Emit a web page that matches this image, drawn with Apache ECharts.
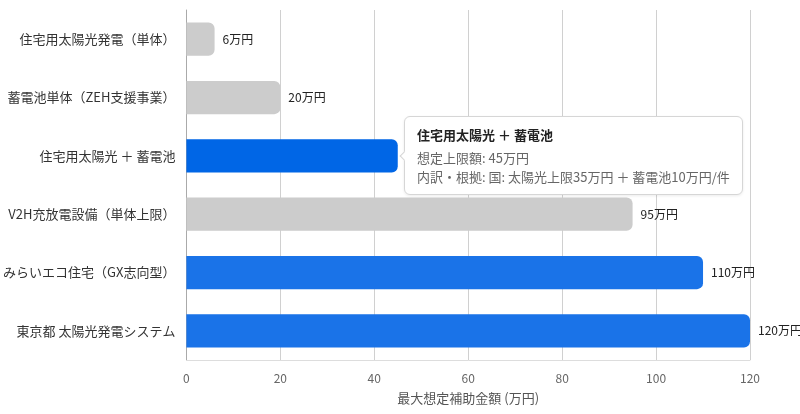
<!DOCTYPE html>
<html>
<head>
<meta charset="utf-8">
<script src="https://cdn.jsdelivr.net/npm/echarts@6/dist/echarts.min.js"></script>
<style>
html,body{margin:0;padding:0;background:#fff;}
#chart{width:800px;height:414px;}
</style>
</head>
<body>
<div id="chart"></div>
<script>
const categories = ['住宅用太陽光発電（単体）','蓄電池単体（ZEH支援事業）','住宅用太陽光 ＋ 蓄電池','V2H充放電設備（単体上限）','みらいエコ住宅（GX志向型）','東京都 太陽光発電システム'];
const values = [6, 20, 45, 95, 110, 120];
const highlightFlags = [false, false, true, false, true, true];
const notes = ['', '', '国: 太陽光上限35万円 ＋ 蓄電池10万円/件', '', '', ''];
const xTicks = [0, 20, 40, 60, 80, 100, 120];

const FONT = '"Noto Sans CJK JP", "Noto Sans", sans-serif';
const chart = echarts.init(document.getElementById('chart'));
chart.setOption({
  animation: false,
  textStyle: { fontFamily: FONT },
  grid: { left: 186, right: 50, top: 10, bottom: 54 },
  tooltip: {
    trigger: 'item',
    position: 'right',
    alwaysShowContent: true,
    backgroundColor: '#fff',
    borderColor: '#d6d6d6',
    borderWidth: 1,
    padding: [8, 12],
    extraCssText: 'border-radius:6px;box-shadow:0 1px 3px rgba(0,0,0,0.08);margin-left:-4px;',
    formatter: function (p) {
      const i = p.dataIndex;
      let s = '<div style="font-family:' + FONT.replace(/"/g, "'") + ';">' +
        '<div style="font-weight:bold;font-size:13px;color:#222;line-height:20px;margin-bottom:3px;">' + categories[i] + '</div>' +
        '<div style="font-size:13px;color:#666;line-height:19px;">想定上限額: ' + values[i] + '万円</div>';
      if (notes[i]) s += '<div style="font-size:13px;color:#666;line-height:19px;">内訳・根拠: ' + notes[i] + '</div>';
      return s + '</div>';
    }
  },
  xAxis: {
    type: 'value',
    min: 0, max: xTicks[xTicks.length - 1], interval: 20,
    name: '最大想定補助金額 (万円)',
    nameLocation: 'middle',
    nameGap: 32,
    nameTextStyle: { color: '#555', fontSize: 13, fontFamily: FONT },
    axisLine: { show: true, lineStyle: { color: '#dddddd' } },
    axisTick: { show: false },
    axisLabel: { color: '#666', fontSize: 12, margin: 12, fontFamily: FONT },
    splitLine: { show: true, lineStyle: { color: '#d0d0d0' } }
  },
  yAxis: {
    type: 'category',
    data: categories,
    inverse: true,
    axisLine: { show: true, lineStyle: { color: '#aaaaaa' } },
    axisTick: { show: false },
    axisLabel: { color: '#333', fontSize: 13, margin: 11, fontFamily: FONT }
  },
  series: [{
    type: 'bar',
    barWidth: '57%',
    data: values.map((v, i) => ({
      value: v,
      itemStyle: { color: highlightFlags[i] ? '#1a73e8' : '#cccccc', borderRadius: [0, 6, 6, 0] },
      emphasis: { itemStyle: { color: highlightFlags[i] ? '#0066e6' : '#bbbbbb' } }
    })),
    label: {
      show: true,
      position: 'right',
      distance: 8,
      color: '#222',
      fontSize: 12,
      fontFamily: FONT,
      formatter: p => p.value + '万円'
    }
  }]
});
chart.dispatchAction({ type: 'highlight', seriesIndex: 0, dataIndex: 2 });
chart.dispatchAction({ type: 'showTip', seriesIndex: 0, dataIndex: 2 });
</script>
</body>
</html>
